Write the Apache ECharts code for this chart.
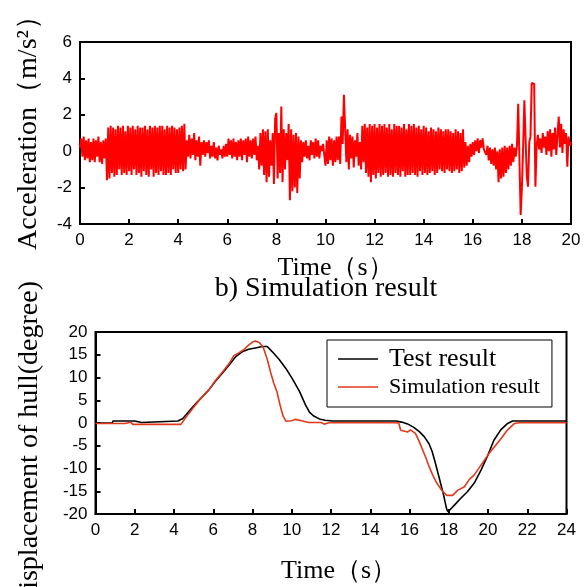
<!DOCTYPE html>
<html>
<head>
<meta charset="utf-8">
<script src="https://cdn.jsdelivr.net/npm/echarts@6/dist/echarts.min.js"></script>
<style>
html,body{margin:0;padding:0;background:#fff;}
#chart{width:586px;height:587px;}
</style>
</head>
<body>
<div id="chart"></div>
<script>
// ---- Data ----
// a) Acceleration signal, sampled every accStep seconds from 0 to 20 s
const accStep = 0.05;
const accValues = [
  0.2, 0.7, -0.3, 0.8, -0.5, 0.6, -0.4, 0.7, -0.6, 0.5,
  -0.5, 0.7, -0.6, 0.6, -0.3, 0.8, -0.6, 0.5, -0.7, 0.6,
  -0.4, 0.7, -1.6, 1.3, -1.5, 1.4, -1.2, 1.3, -1.4, 1.2,
  -1.3, 1.4, -1.0, 1.3, -1.3, 1.4, -1.2, 1.1, -1.3, 1.4,
  -1.1, 1.3, -1.3, 1.4, -1.0, 1.2, -1.3, 1.4, -1.2, 1.3,
  -1.4, 1.3, -1.1, 1.4, -1.3, 1.2, -1.4, 1.4, -1.0, 1.3,
  -1.4, 1.4, -1.2, 1.3, -1.3, 1.4, -1.1, 1.4, -1.3, 1.2,
  -1.3, 1.4, -1.2, 1.3, -1.3, 1.4, -1.0, 1.3, -1.2, 1.2,
  -1.2, 1.3, -1.0, 1.4, -1.1, 1.5, -1.0, 0.6, -0.3, 0.9,
  -0.4, 0.7, -0.2, 1.0, -0.5, 0.6, -0.3, 0.8, -0.8, 0.5,
  -0.2, 0.6, -0.3, 0.5, -0.1, 0.6, -0.4, 0.3, -0.3, 0.5,
  -0.4, 0.2, -0.5, 0.3, -0.2, 0.1, -0.4, 0.3, -0.3, 0.4,
  -0.3, 0.7, -0.2, 0.6, -0.4, 0.7, -0.3, 0.5, -0.5, 0.6,
  -0.3, 0.7, -0.5, 0.6, -0.2, 0.7, -0.6, 0.8, -0.3, 0.6,
  -0.4, 0.7, -0.2, 0.8, -0.5, 0.3, -1.0, 1.0, -0.8, 1.2,
  -1.3, 1.1, -1.7, 1.2, -1.4, 0.6, -0.8, 1.0, -1.8, 1.8,
  2.1, -1.5, 1.0, -1.2, 2.45, -1.7, 1.2, -1.0, 1.0, -0.5,
  1.5, -2.7, 1.2, -2.2, 0.9, -2.0, 1.0, -2.3, 0.8, -1.5,
  0.6, -0.6, 0.5, -0.3, 0.6, -0.4, 0.3, -0.5, 0.6, -0.2,
  0.5, -0.4, 0.7, -0.3, 0.6, -0.4, 0.3, 0.0, 0.4, -0.2,
  -0.8, 0.6, -0.7, 0.8, -0.5, 0.7, -0.8, 0.6, -0.6, 0.8,
  -0.5, 0.8, -0.7, 1.9, 0.4, 3.1, 3.1, -0.6, 1.2, -1.0,
  0.9, -0.4, 0.8, -0.9, 0.6, -0.3, 1.0, -0.8, 0.5, -1.0,
  1.4, -0.6, 1.5, -1.2, 1.3, -1.4, 1.5, -1.7, 1.4, -1.3,
  1.5, -1.5, 1.3, -1.2, 1.5, -1.4, 1.4, -1.3, 1.5, -1.2,
  1.3, -1.4, 1.5, -1.3, 1.2, -1.4, 1.5, -1.2, 1.4, -1.3,
  1.4, -1.4, 1.3, -1.1, 1.5, -1.4, 1.2, -1.3, 1.5, -1.3,
  1.4, -1.2, 1.5, -1.3, 1.3, -1.4, 1.4, -1.1, 1.2, -1.3,
  1.4, -1.2, 1.3, -1.3, 1.1, -1.2, 1.3, -1.1, 1.2, -1.3,
  1.1, -1.2, 1.3, -1.0, 1.2, -1.1, 1.1, -1.2, 1.2, -1.0,
  1.2, -1.1, 1.1, -1.2, 1.0, -1.1, 1.2, -1.0, 1.1, -1.2,
  1.0, -1.1, 1.2, -0.9, 0.5, -0.8, 0.3, -0.6, 0.4, -0.3,
  0.5, -0.2, 0.6, 0.0, 0.7, -0.1, 0.6, 0.2, 0.7, 0.1,
  0.1, -0.2, 0.3, -0.5, 0.2, -0.7, 0.1, -0.8, 0.2, -1.0,
  0.0, -1.7, 0.1, -1.5, 0.2, -1.4, 0.3, -1.2, 0.2, -1.0,
  0.3, -0.8, 0.4, -0.6, 0.2, -0.3, 0.3, 2.6, 2.6, -3.5,
  -2.0, 0.2, 2.8, 2.8, -1.4, -1.95, 0.5, 0.8, 3.75, 3.7,
  3.7, -1.95, 0.3, 0.9, 0.1, 0.7, -0.1, 1.0, 0.2, 0.8,
  -0.2, 1.1, 0.0, 1.2, -0.3, 1.0, 0.1, 1.3, -0.2, 0.9,
  1.9, 0.2, 1.5, -0.1, 1.2, 0.4, 1.0, -0.85, 0.8, 0.3,
  0.5
];

// b) Roll displacement of hull: [time (s), degree]
const testResult = [
  [0,0],[0.85,0],[0.9,0.45],[2.0,0.45],[2.1,0.1],[2.35,0.1],[2.45,0.45],[4.2,0.45],
  [4.45,1.0],[4.75,2.5],[5.1,4.2],[5.45,5.8],[5.8,7.4],[6.1,9.1],[6.45,10.9],[6.8,12.7],
  [7.15,14.6],[7.45,15.6],[7.8,16.2],[8.15,16.5],[8.5,16.8],[8.75,16.8],[9.0,15.7],
  [9.35,14.0],[9.7,12.0],[10.05,9.6],[10.4,6.9],[10.7,4.0],[10.9,2.4],[11.1,1.6],
  [11.4,0.9],[11.7,0.6],[12.1,0.45],[15.3,0.45],[15.6,0.2],[15.9,-0.2],[16.2,-0.9],
  [16.5,-1.9],[16.75,-3.0],[17.0,-4.6],[17.15,-6.2],[17.3,-8.5],[17.45,-11.0],
  [17.6,-13.5],[17.72,-15.5],[17.82,-17.5],[17.9,-19.0],[17.97,-19.5],[18.05,-19.2],
  [18.3,-18.0],[18.6,-16.6],[18.95,-15.1],[19.3,-13.2],[19.65,-10.3],[20.0,-7.0],
  [20.3,-3.8],[20.65,-1.5],[21.0,-0.1],[21.25,0.45],[24,0.45]
];
const simResult = [
  [0,-0.1],[0.4,-0.1],[0.5,-0.35],[0.6,-0.1],[1.5,-0.1],[1.6,0.15],[1.8,0.15],[1.9,-0.3],
  [2.9,-0.3],[3.0,0.1],[3.1,-0.3],[4.35,-0.3],[4.6,1.2],[5.1,4.0],[5.45,5.8],[5.8,7.4],
  [6.1,9.3],[6.45,11.1],[6.8,13.0],[7.05,14.8],[7.3,15.4],[7.55,16.1],[7.8,17.1],
  [8.0,17.8],[8.15,18.0],[8.35,17.7],[8.55,16.6],[8.75,14.0],[8.92,11.2],[9.08,8.8],
  [9.25,6.8],[9.4,4.0],[9.55,1.6],[9.7,0.4],[10.0,0.5],[10.2,0.8],[10.5,0.5],
  [10.85,0.1],[11.5,0.1],[11.65,-0.25],[11.9,0.05],[13.9,0.05],[14.0,-0.2],[14.1,0.05],
  [14.7,0.05],[14.8,0.35],[14.9,0.05],[15.2,0.05],[15.3,0.4],[15.45,0.0],[15.55,-1.6],
  [15.9,-2.0],[16.05,-1.5],[16.3,-2.3],[16.5,-4.1],[16.67,-5.9],[16.84,-7.7],[17.0,-9.6],
  [17.18,-11.4],[17.35,-12.9],[17.52,-14.0],[17.7,-15.1],[17.9,-15.9],[18.2,-15.9],
  [18.45,-14.8],[18.8,-14.0],[19.05,-12.4],[19.3,-11.4],[19.65,-9.2],[20.0,-7.0],
  [20.33,-5.2],[20.67,-3.4],[21.0,-1.5],[21.35,-0.1],[21.6,0.05],[24,0.05]
];

const legendNames = ['Test result', 'Simulation result'];
const subTitle = 'b) Simulation result';

// ---- Chart ----
const chart = echarts.init(document.getElementById('chart'), null, {renderer: 'canvas'});
const sans = '"Liberation Sans", Arial, sans-serif';
const serif = '"Liberation Serif", "Times New Roman", serif';

function axisCommon() {
  return {
    type: 'value',
    axisLine: {show: true, onZero: false, lineStyle: {color: '#000', width: 2}},
    axisTick: {show: true, inside: true, length: 5, lineStyle: {color: '#000', width: 2}},
    axisLabel: {color: '#000', fontSize: 17, fontFamily: sans, margin: 8},
    splitLine: {show: false}
  };
}

const option = {
  animation: false,
  backgroundColor: '#fff',
  grid: [
    {left: 80, top: 42, width: 491, height: 182, show: true, borderColor: '#000', borderWidth: 2},
    {left: 95.5, top: 332, width: 471, height: 182, show: true, borderColor: '#000', borderWidth: 2}
  ],
  xAxis: [
    Object.assign(axisCommon(), {
      gridIndex: 0, min: 0, max: 20, interval: 2,
      name: 'Time（s）', nameLocation: 'middle', nameGap: 31,
      nameTextStyle: {fontFamily: serif, fontSize: 26, color: '#000', padding: [0, 0, 0, 20]}
    }),
    Object.assign(axisCommon(), {
      gridIndex: 1, min: 0, max: 24, interval: 2,
      name: 'Time（s）', nameLocation: 'middle', nameGap: 44,
      nameTextStyle: {fontFamily: serif, fontSize: 26, color: '#000', padding: [0, 0, 0, 16]}
    })
  ],
  yAxis: [
    Object.assign(axisCommon(), {gridIndex: 0, min: -4, max: 6, interval: 2}),
    Object.assign(axisCommon(), {gridIndex: 1, min: -20, max: 20, interval: 5})
  ],
  legend: {
    show: true,
    orient: 'vertical',
    left: 327, top: 340,
    padding: [6, 12, 9, 11],
    itemGap: 4,
    icon: 'rect',
    itemWidth: 40,
    itemHeight: 1.6,
    borderColor: '#000', borderWidth: 1,
    backgroundColor: '#fff',
    textStyle: {fontFamily: serif, color: '#000', padding: [0, 0, 0, 6]},
    data: [
      {name: legendNames[0], textStyle: {fontSize: 26}},
      {name: legendNames[1], textStyle: {fontSize: 22}}
    ]
  },
  graphic: [
    {type: 'text', x: 29, y: 126, rotation: Math.PI / 2,
      style: {text: 'Acceleration（m/s²）', font: '28px ' + serif, fill: '#000', align: 'center', verticalAlign: 'middle'}},
    {type: 'text', x: 30, y: 445, rotation: Math.PI / 2,
      style: {text: 'Displacement of hull(degree)', font: '28px ' + serif, fill: '#000', align: 'center', verticalAlign: 'middle'}},
    {type: 'text', x: 326, y: 289,
      style: {text: subTitle, font: '28px ' + serif, fill: '#000', align: 'center', verticalAlign: 'middle'}}
  ],
  series: [
    {
      type: 'line', xAxisIndex: 0, yAxisIndex: 0,
      data: accValues.map((v, i) => [Math.round(i * accStep * 100) / 100, v]),
      symbol: 'none', lineStyle: {color: '#ff0000', width: 2}, itemStyle: {color: '#ff0000'}
    },
    {
      type: 'line', name: legendNames[0], xAxisIndex: 1, yAxisIndex: 1,
      data: testResult, symbol: 'none',
      lineStyle: {color: '#000', width: 1.6}, itemStyle: {color: '#000'}
    },
    {
      type: 'line', name: legendNames[1], xAxisIndex: 1, yAxisIndex: 1,
      data: simResult, symbol: 'none',
      lineStyle: {color: '#e2391b', width: 1.6}, itemStyle: {color: '#e2391b'}
    }
  ]
};
chart.setOption(option);
</script>
</body>
</html>
